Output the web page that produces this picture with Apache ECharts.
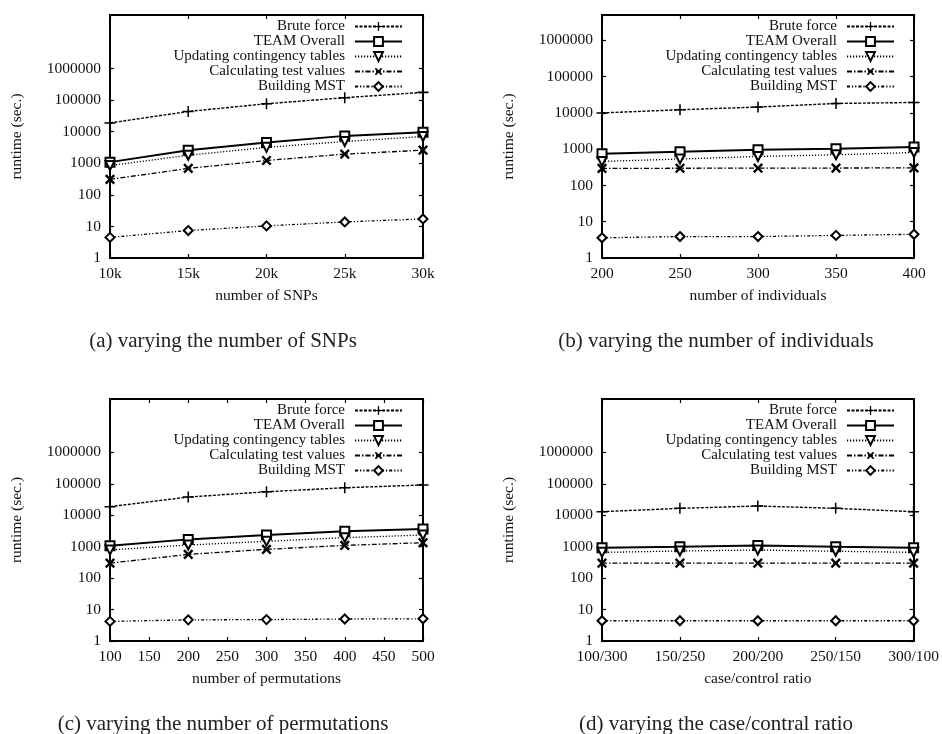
<!DOCTYPE html>
<html>
<head>
<meta charset="utf-8">
<script src="https://cdn.jsdelivr.net/npm/echarts@6.0.0/dist/echarts.min.js"></script>
<style>
html,body{margin:0;padding:0;background:#fff;}
#chart{width:942px;height:734px;}
</style>
</head>
<body>
<div id="chart"></div>
<script>
// ---- data ----
const seriesNames = ['Brute force', 'TEAM Overall', 'Updating contingency tables', 'Calculating test values', 'Building MST'];
const yTickValues = [1, 10, 100, 1000, 10000, 100000, 1000000];

// (a) varying the number of SNPs
const snpX = [10000, 15000, 20000, 25000, 30000];
const aBrute = [19000, 44000, 77000, 120000, 177000];
const aTeam = [1090, 2600, 4600, 7400, 9600];
const aUpdate = [850, 1800, 3200, 4900, 7100];
const aCalc = [310, 690, 1230, 1960, 2600];
const aMst = [4.5, 7.4, 10.4, 13.9, 17.3];

// (b) varying the number of individuals
const indX = [200, 250, 300, 350, 400];
const bBrute = [10000, 12200, 14500, 18200, 19400];
const bTeam = [750, 850, 960, 1030, 1140];
const bUpdate = [460, 535, 630, 700, 810];
const bCalc = [295, 298, 300, 302, 305];
const bMst = [3.6, 3.9, 3.9, 4.2, 4.5];

// (c) varying the number of permutations
const permX = [100, 200, 300, 400, 500];
const cBrute = [18800, 38000, 56000, 75000, 92000];
const cTeam = [1080, 1710, 2350, 3080, 3660];
const cUpdate = [790, 1130, 1480, 1940, 2350];
const cCalc = [300, 570, 825, 1100, 1340];
const cMst = [4.2, 4.7, 4.8, 5.0, 5.1];

// (d) varying the case/control ratio
const ratioCats = ['100/300', '150/250', '200/200', '250/150', '300/100'];
const dBrute = [13000, 16600, 19700, 16600, 13000];
const dTeam = [930, 1000, 1100, 1000, 930];
const dUpdate = [660, 730, 785, 715, 660];
const dCalc = [300, 300, 300, 300, 300];
const dMst = [4.4, 4.4, 4.4, 4.4, 4.4];

const captions = ['(a) varying the number of SNPs', '(b) varying the number of individuals',
  '(c) varying the number of permutations', '(d) varying the case/contral ratio'];
const xTitles = ['number of SNPs', 'number of individuals', 'number of permutations', 'case/control ratio'];

// ---- layout / style ----
const FONT = '"Liberation Serif", "DejaVu Serif", serif';
const panels = [
  { kind: 'value', x: snpX, xmin: 10000, xmax: 30000, xint: 5000, fmt: v => (v / 1000) + 'k',
    ys: [aBrute, aTeam, aUpdate, aCalc, aMst], ymax: 5e7,
    grid: { left: 110, top: 15, width: 313, height: 243 }, legend: { right: 539, top: 19 },
    cap: [223, 341] },
  { kind: 'value', x: indX, xmin: 200, xmax: 400, xint: 50, fmt: v => String(v),
    ys: [bBrute, bTeam, bUpdate, bCalc, bMst], ymax: 5e6,
    grid: { left: 602, top: 15, width: 312, height: 243 }, legend: { right: 47, top: 19 },
    cap: [716, 341] },
  { kind: 'value', x: permX, xmin: 100, xmax: 500, xint: 50, fmt: v => String(v),
    ys: [cBrute, cTeam, cUpdate, cCalc, cMst], ymax: 5e7,
    grid: { left: 110, top: 399, width: 313, height: 242 }, legend: { right: 539, top: 403 },
    cap: [223, 724] },
  { kind: 'category', x: ratioCats,
    ys: [dBrute, dTeam, dUpdate, dCalc, dMst], ymax: 5e7,
    grid: { left: 602, top: 399, width: 312, height: 242 }, legend: { right: 47, top: 403 },
    cap: [716, 724] }
];

const PLUS = 'path://M4.3,0H5.7V4.3H10V5.7H5.7V10H4.3V5.7H0V4.3H4.3Z';
const BOLDPLUS = 'path://M4,0H6V4H10V6H6V10H4V6H0V4H4Z';
const styles = [
  { symbol: PLUS, size: 11, rotate: 0, line: { width: 1.4, type: [3, 1.5] }, bw: 0 },
  { symbol: 'emptyRect', size: 9, rotate: 0, line: { width: 2, type: 'solid' }, bw: 1.5 },
  { symbol: 'emptyTriangle', size: 9, rotate: 180, line: { width: 1.3, type: [1.2, 1.8] }, bw: 1.5 },
  { symbol: BOLDPLUS, size: 12, rotate: 45, line: { width: 1.3, type: [5, 2, 1.5, 2] }, bw: 0 },
  { symbol: 'emptyDiamond', size: 9, rotate: 0, line: { width: 1.3, type: [3, 2, 1.2, 2, 1.2, 2] }, bw: 1.5 }
];

const grid = [], xAxis = [], yAxis = [], series = [], legend = [], graphic = [];
const labelStyle = { fontFamily: FONT, fontSize: 15.5, color: '#111' };
const axisLineStyle = { show: true, lineStyle: { color: '#000', width: 2 } };

panels.forEach((p, i) => {
  grid.push(Object.assign({ containLabel: false }, p.grid));
  const baseX = p.kind === 'value'
    ? { type: 'value', min: p.xmin, max: p.xmax, interval: p.xint }
    : { type: 'category', data: p.x, boundaryGap: false };
  xAxis.push(Object.assign({}, baseX, {
    gridIndex: i, position: 'bottom',
    name: xTitles[i], nameLocation: 'middle', nameGap: 30,
    nameTextStyle: { fontFamily: FONT, fontSize: 15.5, color: '#111' },
    axisLine: axisLineStyle,
    axisTick: { show: true, inside: true, length: 4, lineStyle: { color: '#000', width: 1.2 }, alignWithLabel: true },
    axisLabel: Object.assign({ margin: 8, formatter: p.fmt, showMinLabel: true, showMaxLabel: true, interval: 0 }, labelStyle),
    splitLine: { show: false }
  }));
  const baseY = { type: 'log', logBase: 10, min: 1, max: p.ymax };
  yAxis.push(Object.assign({}, baseY, {
    gridIndex: i, position: 'left',
    name: 'runtime (sec.)', nameLocation: 'middle', nameGap: 85,
    nameTextStyle: { fontFamily: FONT, fontSize: 15.5, color: '#111' },
    axisLine: axisLineStyle,
    axisTick: { show: true, inside: true, length: 4, lineStyle: { color: '#000', width: 1.2 }, customValues: yTickValues },
    axisLabel: Object.assign({ margin: 9, customValues: yTickValues, formatter: v => String(Math.round(v)) }, labelStyle),
    splitLine: { show: false }, minorTick: { show: false }
  }));
  series.push(...p.ys.map((vals, k) => ({
    type: 'line', name: seriesNames[k], xAxisIndex: i, yAxisIndex: i,
    data: p.kind === 'value' ? vals.map((v, j) => [p.x[j], v]) : vals.slice(),
    symbol: styles[k].symbol, symbolSize: styles[k].size, symbolRotate: styles[k].rotate,
    showAllSymbol: true, clip: false,
    lineStyle: Object.assign({ color: '#000' }, styles[k].line),
    itemStyle: { color: '#000', borderColor: '#000', borderWidth: styles[k].bw },
    emphasis: { disabled: true }, z: 3
  })));
  legend.push({
    orient: 'vertical', align: 'right', right: p.legend.right, top: p.legend.top,
    padding: 0, itemGap: 0, itemWidth: 47, itemHeight: 11,
    selectedMode: false,
    data: seriesNames,
    textStyle: { fontFamily: FONT, fontSize: 15, color: '#111', lineHeight: 14.7, padding: [0, 5, 0, 0] }
  });
  graphic.push({
    type: 'text', x: p.cap[0], y: p.cap[1],
    style: { text: captions[i], font: '21px ' + FONT, fill: '#222', textAlign: 'center', textVerticalAlign: 'middle' }
  });
});

// mirrored axes (top / right) for gnuplot-style box ticks
panels.forEach((p, i) => {
  const baseX = p.kind === 'value'
    ? { type: 'value', min: p.xmin, max: p.xmax, interval: p.xint }
    : { type: 'category', data: p.x, boundaryGap: false };
  xAxis.push(Object.assign({}, baseX, {
    gridIndex: i, position: 'top',
    axisLine: axisLineStyle,
    axisTick: { show: true, inside: true, length: 4, lineStyle: { color: '#000', width: 1.2 }, alignWithLabel: true },
    axisLabel: { show: false }, splitLine: { show: false }
  }));
  yAxis.push({
    type: 'log', logBase: 10, min: 1, max: p.ymax,
    gridIndex: i, position: 'right',
    axisLine: axisLineStyle,
    axisTick: { show: true, inside: true, length: 4, lineStyle: { color: '#000', width: 1.2 }, customValues: yTickValues },
    axisLabel: { show: false }, splitLine: { show: false }
  });
});

const chart = echarts.init(document.getElementById('chart'), null, { renderer: 'canvas' });
chart.setOption({
  backgroundColor: '#fff',
  animation: false,
  grid, xAxis, yAxis, series, legend, graphic
});
</script>
</body>
</html>
